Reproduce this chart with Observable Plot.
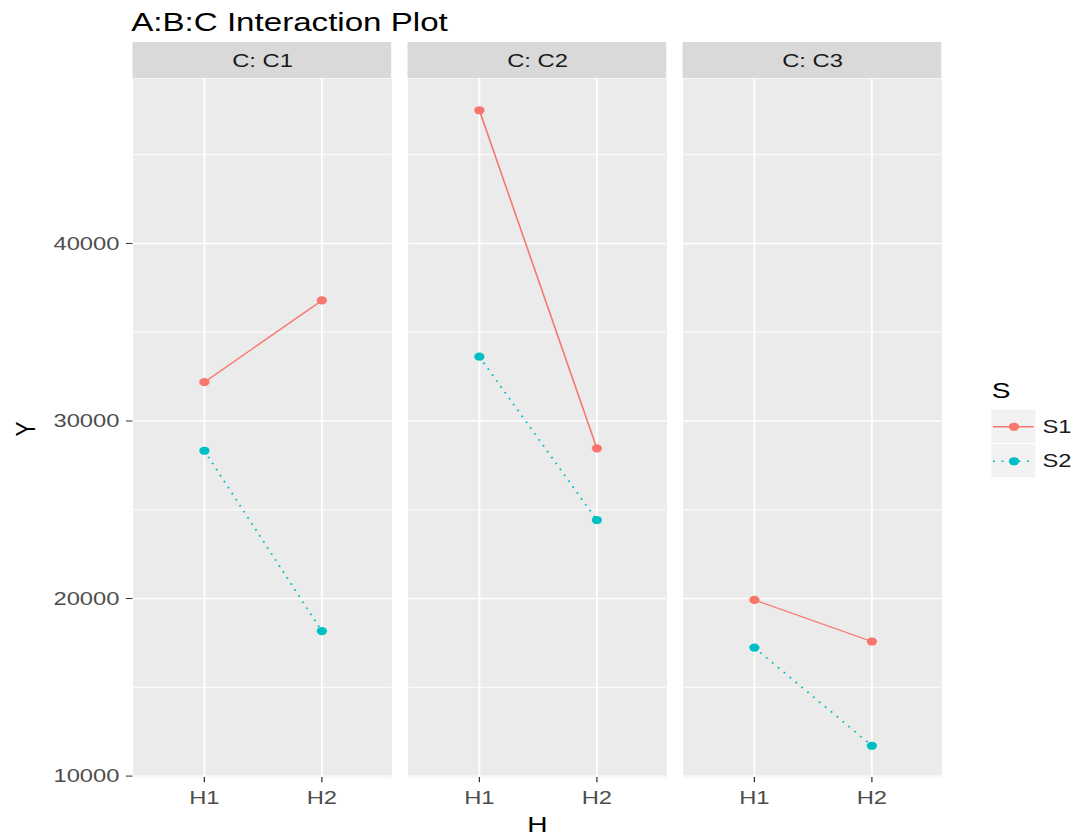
<!DOCTYPE html>
<html>
<head>
<meta charset="utf-8">
<script src="https://cdn.jsdelivr.net/npm/d3@7"></script>
<script src="https://cdn.jsdelivr.net/npm/@observablehq/plot@0.6"></script>
<style>
html, body { margin: 0; padding: 0; background: #fff; overflow: hidden; }
#wrap { position: absolute; left: 0; top: 0; width: 863px; height: 836px;
        transform: scaleX(1.25); transform-origin: 0 0;
        font-family: "Liberation Sans", Arial, sans-serif; }
#wrap > * { position: absolute; }
</style>
</head>
<body>
<div id="wrap"></div>
<script>
// ---- data ----
const facetLevels = ["C1", "C2", "C3"];
const hLevels = ["H1", "H2"];
const seriesNames = ["S1", "S2"];
const seriesColors = ["#F8766D", "#00BFC4"];
// values per facet (C1, C2, C3), each [H1, H2]
const valuesS1 = [[32185, 36791], [47500, 28460], [19920, 17580]];
const valuesS2 = [[28323, 18160], [33620, 24420], [17240, 11710]];
const yMajorTicks = [10000, 20000, 30000, 40000];
const yMinorTicks = [15000, 25000, 35000, 45000];
const titleText = "A:B:C Interaction Plot";
const xTitle = "H", yTitle = "Y", legendTitle = "S";

// ---- build table ----
const rows = [];
[valuesS1, valuesS2].forEach((vals, si) => {
  vals.forEach((pair, ci) => {
    pair.forEach((v, hi) => rows.push({s: seriesNames[si], c: facetLevels[ci], h: hLevels[hi], y: v}));
  });
});
const [ymin, ymax] = d3.extent(rows, d => d.y);
const pad = 0.05 * (ymax - ymin);
const yDomain = [ymin - pad, ymax + pad];

const W = 863, H = 836;
const font = "Liberation Sans, Arial, sans-serif";
const wrap = document.getElementById("wrap");

const main = Plot.plot({
  width: W, height: H,
  marginLeft: 105, marginRight: 108, marginTop: 78, marginBottom: 59,
  style: {fontFamily: font, background: "transparent", overflow: "visible"},
  fx: {domain: facetLevels, paddingInner: 0.058, paddingOuter: 0, axis: null},
  x: {type: "point", domain: hLevels, padding: 0.6, axis: null},
  y: {domain: yDomain, range: [777, 78], axis: null},
  color: {domain: seriesNames, range: seriesColors},
  marks: [
    Plot.frame({fill: "#EBEBEB", stroke: null}),
    Plot.gridY(yMinorTicks, {stroke: "#FFFFFF", strokeOpacity: 1, strokeWidth: 0.8}),
    Plot.gridY(yMajorTicks, {stroke: "#FFFFFF", strokeOpacity: 1, strokeWidth: 1.4}),
    Plot.gridX(hLevels, {stroke: "#FFFFFF", strokeOpacity: 1, strokeWidth: 1.4}),
    // strips
    Plot.rect(facetLevels, {fx: d => d, y1: yDomain[1], y2: yDomain[1], insetTop: -36, fill: "#D9D9D9"}),
    Plot.text(facetLevels, {fx: d => d, text: d => "C: " + d, frameAnchor: "top", dy: -18,
      lineAnchor: "middle", fontSize: 19, fill: "#1A1A1A"}),
    // axes
    Plot.axisX(hLevels, {tickSize: 5.3, tickPadding: 8, fontSize: 19, stroke: "#333333", fill: "#4D4D4D", label: null}),
    Plot.axisY(yMajorTicks, {tickSize: 5.3, tickPadding: 5.6, fontSize: 19, stroke: "#333333", fill: "#4D4D4D",
      label: null, tickFormat: d => String(d)}),
    // data
    Plot.line(rows.filter(d => d.s === "S1"), {fx: "c", x: "h", y: "y", stroke: "s", strokeWidth: 1.3}),
    Plot.line(rows.filter(d => d.s === "S2"), {fx: "c", x: "h", y: "y", stroke: "s", strokeWidth: 1.6,
      strokeDasharray: "1.6,5.2", strokeLinecap: "butt"}),
    Plot.dot(rows, {fx: "c", x: "h", y: "y", fill: "s", r: 4.1, stroke: null})
  ]
});
main.style.left = "0px"; main.style.top = "0px";
wrap.appendChild(main);

// ---- legend ----
const legendRows = seriesNames.map((s, i) => ({s, i}));
const legend = Plot.plot({
  width: 80, height: 69,
  marginLeft: 0, marginRight: 44.6, marginTop: 0, marginBottom: 0,
  style: {fontFamily: font, background: "transparent", overflow: "visible"},
  x: {domain: [0, 1], axis: null},
  y: {domain: [0, seriesNames.length], range: [0, 69], axis: null},
  color: {domain: seriesNames, range: seriesColors},
  marks: [
    Plot.rect(legendRows, {x1: 0, x2: 1, y1: d => d.i + 0.02, y2: d => d.i + 0.98, fill: "#F2F2F2"}),
    Plot.ruleY(legendRows.filter(d => d.s === "S1"), {y: d => d.i + 0.5, x1: 0.04, x2: 0.96, stroke: d => d.s, strokeWidth: 1.3}),
    Plot.ruleY(legendRows.filter(d => d.s === "S2"), {y: d => d.i + 0.5, x1: 0.04, x2: 0.96, stroke: d => d.s, strokeWidth: 1.6, strokeDasharray: "1.6,5.2"}),
    Plot.dot(legendRows, {x: 0.5, y: d => d.i + 0.5, fill: d => d.s, r: 4.1, stroke: null}),
    Plot.text(legendRows, {x: 1, y: d => d.i + 0.5, dx: 5, text: "s", textAnchor: "start", fontSize: 19, fill: "#1A1A1A"})
  ]
});
legend.style.left = "793.4px"; legend.style.top = "408.7px";
wrap.appendChild(legend);

// ---- titles overlay ----
const svg = d3.create("svg").attr("width", W).attr("height", H)
  .style("left", "0px").style("top", "0px").style("pointer-events", "none")
  .attr("font-family", font);
svg.append("text").attr("x", 105).attr("y", 31).attr("font-size", 26.5).attr("fill", "#000").text(titleText);
svg.append("text").attr("x", 430).attr("y", 832.5).attr("font-size", 22.5).attr("text-anchor", "middle").attr("fill", "#000").text(xTitle);
svg.append("text").attr("transform", "translate(28,429) rotate(-90)").attr("font-size", 22.5).attr("text-anchor", "middle").attr("fill", "#000").text(yTitle);
svg.append("text").attr("x", 793.4).attr("y", 398.3).attr("font-size", 22.5).attr("fill", "#000").text(legendTitle);
wrap.appendChild(svg.node());
</script>
</body>
</html>
